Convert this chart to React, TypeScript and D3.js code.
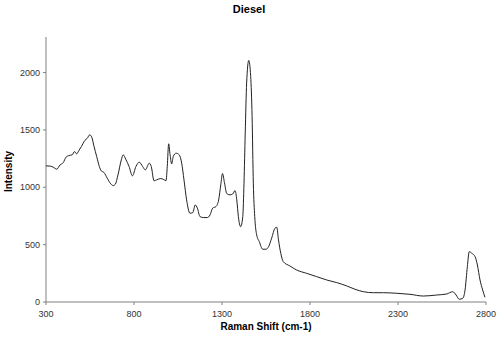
import React from "react";
import * as d3 from "d3";

// Raman spectrum of diesel
const ramanShift = [
    300, 327, 341, 361, 380, 398, 414, 431, 449, 463, 474, 486, 501, 520, 535, 548, 560, 573, 588, 603,
    614, 630, 648, 668, 682, 694, 709, 728, 739, 753, 772, 791, 811, 830, 849, 864, 887, 898, 914, 929,
    952, 966, 982, 989, 997, 1005, 1014, 1023, 1039, 1057, 1071, 1084, 1099, 1118, 1134, 1148, 1160, 1175, 1194, 1217,
    1232, 1247, 1266, 1281, 1293, 1303, 1314, 1327, 1345, 1361, 1374, 1384, 1393, 1406, 1418, 1425, 1432, 1440, 1452, 1463,
    1471, 1478, 1486, 1497, 1512, 1531, 1550, 1565, 1582, 1601, 1611, 1621, 1634, 1648, 1686, 1724, 1781, 1838, 1895, 1952,
    2009, 2056, 2103, 2160, 2217, 2293, 2368, 2444, 2520, 2577, 2611, 2630, 2648, 2668, 2681, 2694, 2705, 2719, 2738, 2751,
    2766, 2781, 2794
];

const intensity = [
    1187, 1184, 1175, 1158, 1195, 1215, 1263, 1277, 1283, 1312, 1291, 1318, 1355, 1407, 1428, 1457, 1437, 1355, 1268, 1181,
    1143, 1128, 1079, 1030, 1015, 1027, 1108, 1239, 1283, 1245, 1181, 1100, 1181, 1219, 1181, 1152, 1210, 1181, 1056, 1065,
    1076, 1070, 1058, 1181, 1379, 1283, 1204, 1268, 1297, 1283, 1210, 1065, 890, 774, 779, 846, 818, 744, 736, 736,
    759, 818, 832, 890, 1021, 1120, 1040, 945, 934, 942, 971, 890, 744, 657, 744, 1036, 1472, 1908, 2106, 1966,
    1617, 1036, 744, 585, 526, 460, 460, 483, 556, 643, 652, 541, 425, 352, 314, 279, 250, 221, 192, 169,
    140, 111, 90, 81, 81, 76, 67, 52, 61, 70, 90, 61, 24, 32, 105, 308, 439, 425, 395, 323,
    192, 105, 41
];

const xTicks = [300, 800, 1300, 1800, 2300, 2800];
const yTicks = [0, 500, 1000, 1500, 2000];

const WIDTH = 500;
const HEIGHT = 339;
const FONT = "'Liberation Sans', Arial, sans-serif";

export default function App() {
    const margin = { top: 37, right: 14, bottom: 37, left: 46 };

    const x = d3.scaleLinear([300, 2800], [margin.left, WIDTH - margin.right]);
    const y = d3.scaleLinear([0, 2310], [HEIGHT - margin.bottom, margin.top]);

    const points = ramanShift.map((s, i) => [s, intensity[i]] as [number, number]);
    const spectrumLine = d3.line<[number, number]>()
        .x((d) => x(d[0]))
        .y((d) => y(d[1]))
        .curve(d3.curveMonotoneX);

    const axisColor = "#808080";
    const x0 = x(300);
    const y0 = y(0);

    return <div style={{ position: "absolute", left: 0, top: 0 }}>
        <svg width={WIDTH} height={HEIGHT} style={{ display: "block", background: "white" }} fontFamily={FONT}>
            <text x={249} y={13} textAnchor="middle" fontSize={11} fontWeight="bold">Diesel</text>

            {/* axes */}
            <line x1={x0} x2={x0} y1={margin.top} y2={y0} stroke={axisColor} />
            <line x1={x0} x2={x(2800)} y1={y0} y2={y0} stroke={axisColor} />

            <g name="yTicks">
                {yTicks.map((tick) => (
                    <g key={tick}>
                        <line x1={x0 - 3} x2={x0} y1={y(tick)} y2={y(tick)} stroke={axisColor} />
                        <text x={x0 - 6} y={y(tick)} dominantBaseline="central" textAnchor="end"
                            fontSize={9} fill="#333">{tick}</text>
                    </g>
                ))}
            </g>
            <g name="xTicks">
                {xTicks.map((tick) => (
                    <g key={tick}>
                        <line x1={x(tick)} x2={x(tick)} y1={y0} y2={y0 + 3} stroke={axisColor} />
                        <text x={x(tick)} y={y0 + 12} dominantBaseline="central" textAnchor="middle"
                            fontSize={9} fill="#333">{tick}</text>
                    </g>
                ))}
            </g>

            <text x={266} y={330} textAnchor="middle" fontSize={10} fontWeight="bold">Raman Shift (cm-1)</text>
            <text transform={`translate(12, ${(margin.top + y0) / 2 + 2}) rotate(-90)`} textAnchor="middle"
                fontSize={10} fontWeight="bold">Intensity</text>

            <path d={spectrumLine(points)!} fill="none" stroke="#222" strokeWidth={1} />
        </svg>
    </div>;
}
